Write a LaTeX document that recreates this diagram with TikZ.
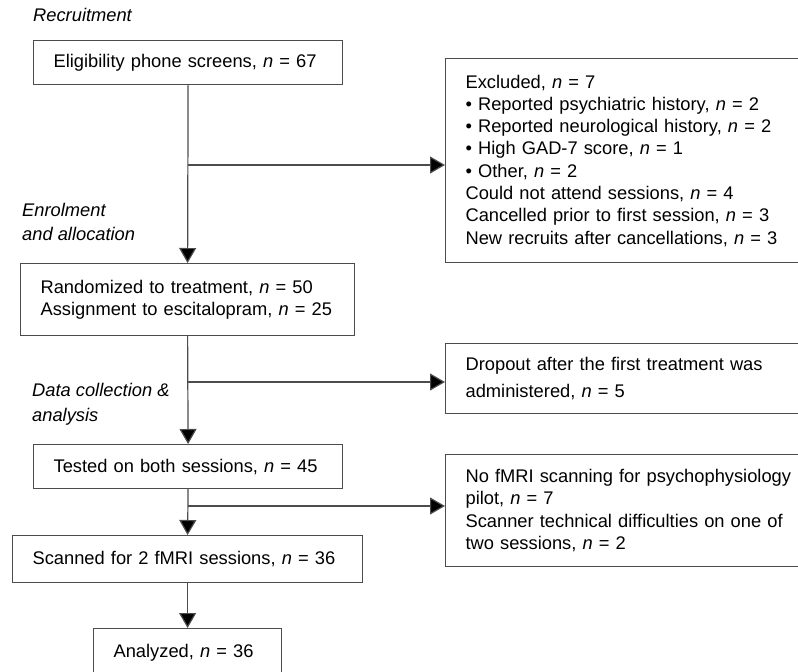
\documentclass[tikz,border=0pt]{standalone}
\usepackage{fontspec}
\setmainfont{Liberation Sans}
\usetikzlibrary{arrows.meta}

\newcommand\chartfont{\fontsize{18.3}{22.3}\selectfont}

\tikzset{
  box/.style={draw=black!70, line width=1.2pt, anchor=north west, align=left,
    inner xsep=20pt, inner ysep=0pt, font=\chartfont, text=black},
  sidebox/.style={box, text width=340pt},
  stage/.style={anchor=west, align=left, inner sep=0pt, font=\chartfont\itshape},
  arr/.style={draw=black!70, line width=1.2pt, -{Triangle[length=15pt,width=17pt,fill=black]}}
}

\begin{document}
\begin{tikzpicture}[x=1pt,y=-1pt]
\useasboundingbox (0,0) rectangle (798,672);
\clip (0,0) rectangle (798,672);
% stage labels, left side
\node[stage] (recr) at (33,15) {Recruitment};
\node[stage] (enrol) at (22,222) {Enrolment\\[2pt]and allocation};
\node[stage] (datacoll) at (32,404) {Data collection \&\\[3pt]analysis};
% main column of boxes
\node[box, text width=269pt, minimum height=44pt] (elig) at (33,40)
  {Eligibility phone screens, \textit{n} = 67};
\node[box, text width=294pt, minimum height=72pt] (rand) at (20,263)
  {Randomized to treatment, \textit{n} = 50\\Assignment to escitalopram, \textit{n} = 25};
\node[box, text width=269pt, minimum height=44pt] (tested) at (33,444)
  {Tested on both sessions, \textit{n} = 45};
\node[box, text width=310pt, minimum height=47pt] (scanned) at (12,535)
  {Scanned for 2 fMRI sessions, \textit{n} = 36};
\node[box, text width=148pt, minimum height=48pt] (analyzed) at (93,628)
  {Analyzed, \textit{n} = 36};
% boxes on the right (cut off by the page edge)
\node[sidebox, minimum height=204pt] (excl) at (445,58)
  {Excluded, \textit{n} = 7\\
   \textbullet\ Reported psychiatric history, \textit{n} = 2\\
   \textbullet\ Reported neurological history, \textit{n} = 2\\
   \textbullet\ High GAD-7 score, \textit{n} = 1\\
   \textbullet\ Other, \textit{n} = 2\\
   Could not attend sessions, \textit{n} = 4\\
   Cancelled prior to first session, \textit{n} = 3\\
   New recruits after cancellations, \textit{n} = 3};
\node[sidebox, minimum height=70pt] (drop) at (445,343)
  {Dropout after the first treatment was\\[4pt]administered, \textit{n} = 5};
\node[sidebox, minimum height=112pt] (nofmri) at (445,454)
  {No fMRI scanning for psychophysiology\\pilot, \textit{n} = 7\\
   Scanner technical difficulties on one of\\two sessions, \textit{n} = 2};
% branch points on the trunk
\coordinate (b1) at (elig.south |- 0,165);
\coordinate (b2) at (rand.south |- 0,382);
\coordinate (b3) at (tested.south |- 0,506);
% trunk
\draw[arr] (elig.south) -- (rand.north);
\draw[arr] (rand.south) -- (tested.north);
\draw[arr] (tested.south) -- (scanned.north);
\draw[arr] (scanned.south) -- (analyzed.north);
% exclusions
\draw[arr] (b1) -- (b1 -| excl.west);
\draw[arr] (b2) -- (b2 -| drop.west);
\draw[arr] (b3) -- (b3 -| nofmri.west);
\end{tikzpicture}
\end{document}
